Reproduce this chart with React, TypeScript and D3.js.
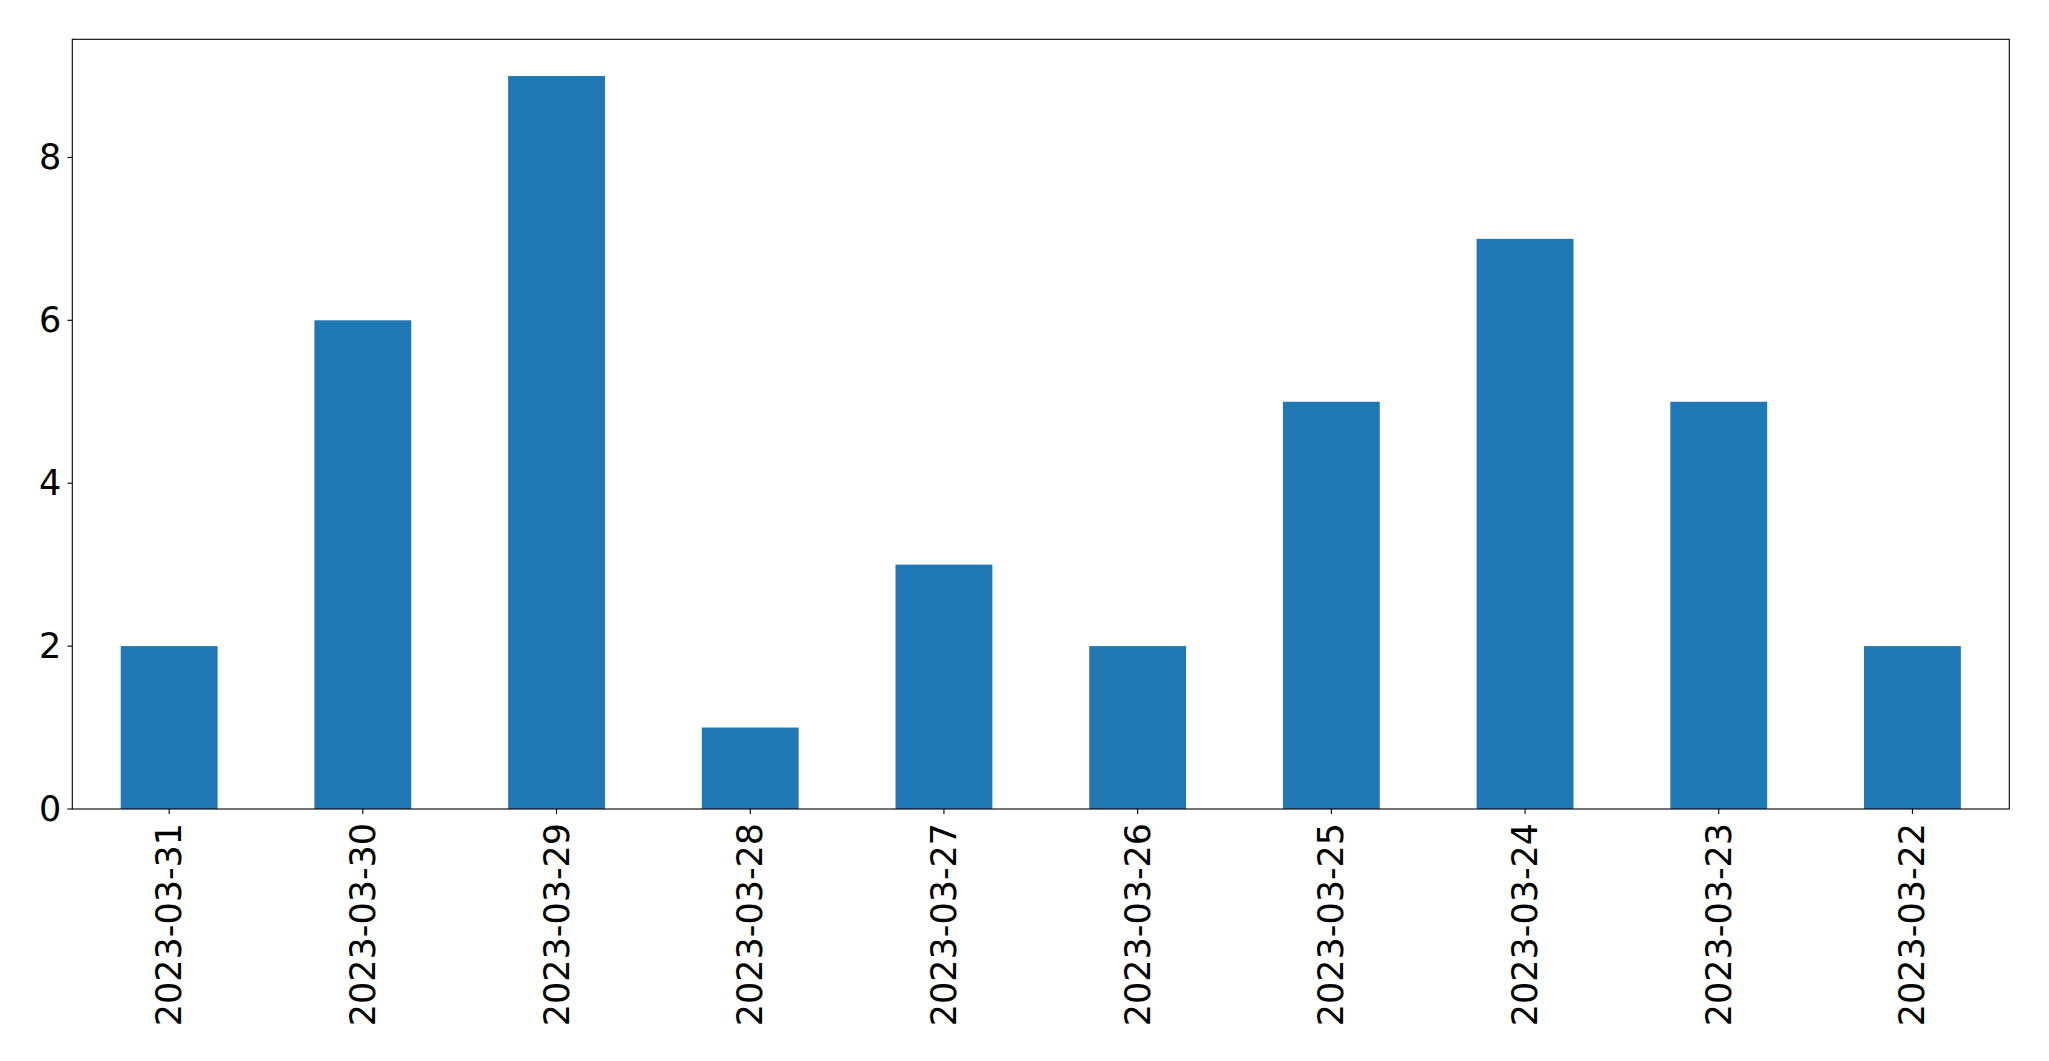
import React from "react";
import * as d3 from "d3";

const categories = ["2023-03-31","2023-03-30","2023-03-29","2023-03-28","2023-03-27","2023-03-26","2023-03-25","2023-03-24","2023-03-23","2023-03-22"];
const values = [2, 6, 9, 1, 3, 2, 5, 7, 5, 2];
const yTicks = [0, 2, 4, 6, 8];

const W = 2049, H = 1061;
const L = 72.3, R = 2009.3, T = 39.3, B = 809;
const FS = 35;

export default function App() {
  const x = d3.scaleLinear().domain([-0.5, categories.length - 0.5]).range([L, R]);
  const y = d3.scaleLinear().domain([0, 9.45]).range([B, T]);
  const bw = x(0.5) - x(0);
  return (
    <svg width={W} height={H} style={{ position: "absolute", left: 0, top: 0 }} fontFamily="DejaVu Sans">
      <rect x={0} y={0} width={W} height={H} fill="white" />
      {values.map((v, i) => (
        <rect key={i} x={x(i) - bw / 2} y={y(v)} width={bw} height={y(0) - y(v)} fill="#1f77b4" />
      ))}
      <rect x={L} y={T} width={R - L} height={B - T} fill="none" stroke="black" strokeWidth={1.1} />
      {yTicks.map((t) => (
        <g key={t}>
          <line x1={L - 4.9} x2={L} y1={y(t)} y2={y(t)} stroke="black" strokeWidth={1.1} />
          <text x={L - 4.9 - 6} y={y(t)} textAnchor="end" dominantBaseline="central" fontSize={FS}>{t}</text>
        </g>
      ))}
      {categories.map((c, i) => (
        <g key={c}>
          <line x1={x(i)} x2={x(i)} y1={B} y2={B + 4.9} stroke="black" strokeWidth={1.1} />
          <text transform={`translate(${x(i)},${B + 4.9 + 9}) rotate(-90)`} textAnchor="end" dominantBaseline="central" fontSize={FS}>{c}</text>
        </g>
      ))}
    </svg>
  );
}
